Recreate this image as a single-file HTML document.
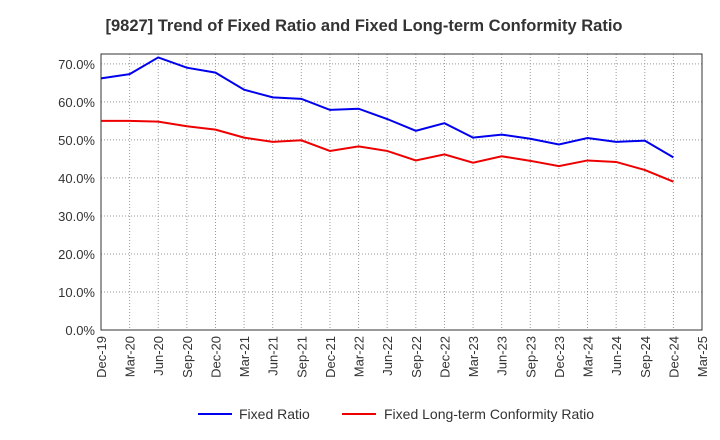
<!DOCTYPE html>
<html><head><meta charset="utf-8"><style>
body{margin:0;background:#fff;font-family:"Liberation Sans",sans-serif}
</style></head><body>
<svg id="chart" width="720" height="440" style="display:block">
<text x="364" y="31" text-anchor="middle" font-size="16.5" font-weight="bold" fill="#333">[9827]  Trend of Fixed Ratio and Fixed Long-term Conformity Ratio</text>
<g id="grid"></g><g id="axes"></g><g id="series"></g>
<g>
<line x1="198" y1="414" x2="232" y2="414" stroke="#0000ee" stroke-width="2"/>
<text x="239" y="419" font-size="14" fill="#333">Fixed Ratio</text>
<line x1="342" y1="414" x2="376" y2="414" stroke="#ee0000" stroke-width="2"/>
<text x="384" y="419" font-size="14" fill="#333">Fixed Long-term Conformity Ratio</text>
</g>
</svg>
<script>
const categories=["Dec-19","Mar-20","Jun-20","Sep-20","Dec-20","Mar-21","Jun-21","Sep-21","Dec-21","Mar-22","Jun-22","Sep-22","Dec-22","Mar-23","Jun-23","Sep-23","Dec-23","Mar-24","Jun-24","Sep-24","Dec-24","Mar-25"];
const fixedRatio=[66.2,67.3,71.7,69.0,67.7,63.2,61.2,60.8,57.9,58.2,55.5,52.4,54.4,50.6,51.4,50.3,48.8,50.5,49.5,49.8,45.4];
const fixedLongTerm=[55.0,55.0,54.8,53.6,52.7,50.6,49.5,49.9,47.1,48.3,47.1,44.6,46.2,44.0,45.7,44.5,43.1,44.6,44.2,42.1,39.0];
const yTicks=[0,10,20,30,40,50,60,70];
const NS="http://www.w3.org/2000/svg";
const L=101,R=702,T=54,B=330,yMax=72.6;
const x=i=>L+i*(R-L)/(categories.length-1);
const y=v=>B-v/yMax*(B-T);
function mk(tag,attrs,parent){const e=document.createElementNS(NS,tag);for(const k in attrs)e.setAttribute(k,attrs[k]);parent.appendChild(e);return e;}
const grid=document.getElementById('grid'),axes=document.getElementById('axes'),ser=document.getElementById('series');
yTicks.forEach(t=>{
 const g=mk('line',{x1:L,x2:R,y1:y(t),y2:y(t),stroke:'#999','stroke-dasharray':'1,2'},grid);
 
 
 const tx=mk('text',{x:L-6,y:y(t)+5,'text-anchor':'end','font-size':13,fill:'#333'},axes);
 tx.textContent=t.toFixed(1)+'%';
 
 
});
categories.forEach((c,i)=>{
 const g=mk('line',{x1:x(i),x2:x(i),y1:T,y2:B,stroke:'#999','stroke-dasharray':'1,2'},grid);
 
 
 const tx=mk('text',{transform:`translate(${x(i)+5},${B+6}) rotate(-90)`,'text-anchor':'end','font-size':13,fill:'#333'},axes);
 tx.textContent=c;
 
 
});
const frame=mk('rect',{x:L,y:T,width:R-L,height:B-T,fill:'none',stroke:'#333'},axes);


[[fixedRatio,'#0000ee','fixed-ratio-line'],[fixedLongTerm,'#ee0000','fixed-long-term-line']].forEach(([d,col,n])=>{
 const p=mk('polyline',{points:d.map((v,i)=>x(i)+','+y(v)).join(' '),fill:'none',stroke:col,'stroke-width':2},ser);
 
 
});
</script>
</body></html>
